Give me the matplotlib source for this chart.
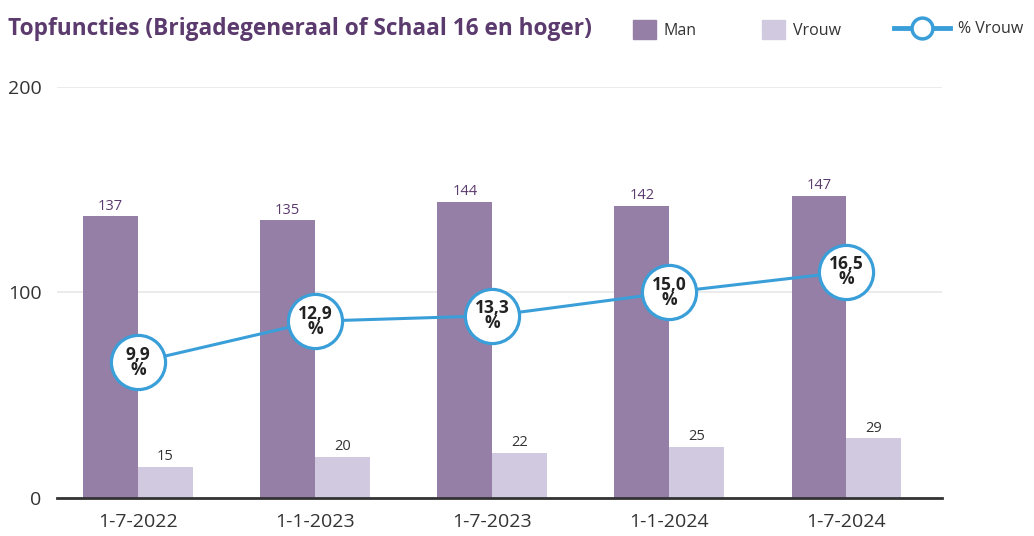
import numpy as np
import matplotlib.pyplot as plt
from matplotlib.patches import Patch
from matplotlib.lines import Line2D

plt.rcParams['font.family'] = ['Open Sans', 'DejaVu Sans']

# data
dates = ['1-7-2022', '1-1-2023', '1-7-2023', '1-1-2024', '1-7-2024']
man = [137, 135, 144, 142, 147]
vrouw = [15, 20, 22, 25, 29]
pct_vrouw = [9.9, 12.9, 13.3, 15.0, 16.5]

c_man = '#957fa6'
c_vrouw = '#d1c9df'
c_line = '#3a9fd9'
c_title = '#5b3a6e'
c_text = '#333333'

fig = plt.figure(figsize=(10.34, 5.36), dpi=100)
ax = fig.add_axes([0.0551, 0.0709, 0.856, 0.767])

x = np.arange(len(dates))
w = 0.31
b1 = ax.bar(x - w / 2, man, w, color=c_man, zorder=2)
b2 = ax.bar(x + w / 2, vrouw, w, color=c_vrouw, zorder=2)

for r, v in zip(b1, man):
    ax.annotate(str(v), (r.get_x() + r.get_width() / 2, v), xytext=(0, 2),
                textcoords='offset points', ha='center', va='bottom',
                fontsize=10.5, color=c_title)
for r, v in zip(b2, vrouw):
    ax.annotate(str(v), (r.get_x() + r.get_width() / 2, v), xytext=(0, 2),
                textcoords='offset points', ha='center', va='bottom',
                fontsize=10.5, color=c_text)

ax.set_xlim(-0.458, 4.54)
ax.set_ylim(0, 200)
ax.set_yticks([0, 100, 200])
ax.set_xticks(x)
ax.set_xticklabels(dates, fontsize=14, color=c_text)
ax.tick_params(axis='y', length=0, pad=11, labelsize=14, labelcolor=c_text)
ax.tick_params(axis='x', length=0, pad=11)
ax.grid(axis='y', color='#e8e8e8', lw=1.2, zorder=0)
for s in ['top', 'right', 'left']:
    ax.spines[s].set_visible(False)
ax.spines['bottom'].set_color('#333333')
ax.spines['bottom'].set_linewidth(2)
ax.spines['bottom'].set_zorder(5)

# percentage line on secondary scale
ax2 = ax.twinx()
ax2.set_ylim(0, 30)
ax2.axis('off')
ax2.plot(x, pct_vrouw, color=c_line, lw=2.2, marker='o', markersize=39,
         markerfacecolor='white', markeredgecolor=c_line, markeredgewidth=2.3,
         zorder=3)
for xi, p in zip(x, pct_vrouw):
    ax2.text(xi, p, f'{p:.1f}'.replace('.', ',') + '\n%', ha='center',
             va='center', fontsize=12.5, fontweight='bold', color='#222222',
             linespacing=0.8, zorder=4)

fig.text(0.008, 0.945, 'Topfuncties (Brigadegeneraal of Schaal 16 en hoger)',
         fontsize=16.3, fontweight='bold', color=c_title, va='center')

leg_kw = dict(frameon=False, loc='center left', fontsize=11.5,
              labelcolor=c_text, handletextpad=0.5, borderaxespad=0,
              borderpad=0)
fig.legend([Patch(color=c_man)], ['Man'], bbox_to_anchor=(0.612, 0.945),
           handlelength=1.45, handleheight=1.45, **leg_kw)
fig.legend([Patch(color=c_vrouw)], ['Vrouw'], bbox_to_anchor=(0.737, 0.945),
           handlelength=1.45, handleheight=1.45, **leg_kw)
fig.legend([Line2D([], [], color=c_line, lw=3.5, marker='o', markersize=15,
                   markerfacecolor='white', markeredgecolor=c_line,
                   markeredgewidth=2.5)], ['% Vrouw'],
           bbox_to_anchor=(0.865, 0.945), handlelength=3.5, **leg_kw)

fig.savefig('out.png', dpi=100)
